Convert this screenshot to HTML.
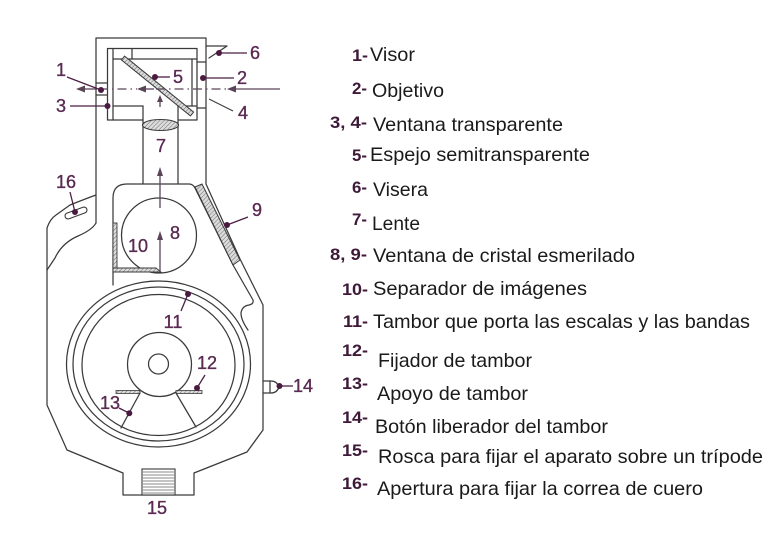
<!DOCTYPE html>
<html><head><meta charset="utf-8">
<style>
html,body{margin:0;padding:0;background:#fff;}
svg{display:block;}
.l{fill:none;stroke:#3a3a3a;stroke-width:1.25;stroke-linejoin:round;stroke-linecap:round;}
.lab{font-family:"Liberation Sans",sans-serif;font-size:18px;fill:#5a2a52;stroke:#5a2a52;stroke-width:0.35;text-anchor:middle;dominant-baseline:central;}
.ld{stroke:#4a1f44;stroke-width:1.3;fill:none;}
.dot{fill:#4a1a40;}
.ar{stroke:#5a4458;stroke-width:1.3;fill:none;}
.ah{fill:#5a4458;}
.t{font-family:"Liberation Sans",sans-serif;font-size:19.5px;fill:#1a1a1a;}
.p{font-family:"Liberation Sans",sans-serif;font-size:17px;font-weight:bold;fill:#3e1a38;}
</style></head><body>
<svg width="784" height="538" viewBox="0 0 784 538" xmlns="http://www.w3.org/2000/svg">
<defs>
<pattern id="h" width="3" height="3" patternUnits="userSpaceOnUse" patternTransform="rotate(45)">
<rect width="3" height="3" fill="#dcdcdc"/><line x1="0" y1="0" x2="0" y2="3" stroke="#6e6e6e" stroke-width="1"/>
</pattern>
</defs>

<!-- outer body -->
<path class="l" d="M96 223 L96 38 L206 38 L206 184 L240 259 L263 305 L263 430 L247 452 L194 473 L194 495 L123 495 L123 473 L67 450 L47 405 L47 228 Q50 219 56 215 L70 205 Q85 199 96 195"/>
<path class="l" d="M96 223 Q92 230 78 236 Q62 243 55 258 L47 270"/>

<!-- top box windows -->
<line class="l" x1="197" y1="62" x2="206" y2="62"/>
<line class="l" x1="197" y1="108" x2="206" y2="108"/>
<line class="l" x1="96" y1="83" x2="107" y2="83"/>
<line class="l" x1="96" y1="95" x2="107" y2="95"/>

<!-- inner box -->
<path class="l" d="M143 120 L107.5 120 L107.5 48.5 L197 48.5 L197 120 L178 120"/>
<line class="l" x1="113" y1="48.5" x2="113" y2="120"/>
<line class="l" x1="113" y1="59" x2="197" y2="59"/>
<line class="l" x1="132" y1="48.5" x2="132" y2="59"/>
<line class="l" x1="192" y1="59" x2="192" y2="106"/>
<line class="l" x1="113" y1="106" x2="143" y2="106"/>
<line class="l" x1="178" y1="106" x2="197" y2="106"/>

<!-- mirror -->
<polygon points="124.6,56.1 193.6,112.1 190.4,115.9 121.4,59.9" fill="url(#h)" stroke="#3a3a3a" stroke-width="1"/>

<!-- tube -->
<line class="l" x1="143" y1="106" x2="143" y2="184"/>
<line class="l" x1="178" y1="106" x2="178" y2="184"/>
<ellipse cx="160.5" cy="125" rx="18" ry="5.5" fill="url(#h)" stroke="#3a3a3a" stroke-width="1.1"/>

<!-- light path -->
<line class="ar" x1="234" y1="89" x2="280" y2="89"/>
<polygon class="ah" points="227,89 236,85.5 236,92.5"/>
<line class="ar" x1="144" y1="89" x2="154" y2="89"/>
<polygon class="ah" points="137,89 146,85.5 146,92.5"/>
<line class="ar" x1="83" y1="89" x2="97" y2="89"/>
<polygon class="ah" points="76,89 85,85.5 85,92.5"/>
<line class="ar" x1="99" y1="89" x2="137" y2="89" stroke-dasharray="9 4 1.5 4"/>
<line class="ar" x1="156" y1="89" x2="227" y2="89" stroke-dasharray="9 4 1.5 4"/>

<!-- small up arrow in box -->
<line class="ar" x1="160" y1="101" x2="160" y2="107"/>
<polygon class="ah" points="160,95 157,102 163,102"/>

<!-- block around window 8 -->
<path class="l" d="M113 285 L113 198 Q113 184 127 184 L189 184 Q193 184 195 188 L233 265 L253 300 Q254 304 249 305 Q242 306 241 313 Q241 320 248 330"/>
<!-- window 9 -->
<polygon points="195,187 202,184 240,260 233,265" fill="url(#h)" stroke="#3a3a3a" stroke-width="1"/>

<!-- window 8 -->
<circle class="l" cx="159" cy="235.5" r="37.5"/>
<!-- separator 10 -->
<rect x="113" y="223" width="4" height="48" fill="url(#h)" stroke="#3a3a3a" stroke-width="0.9"/>
<polygon points="113,268 156,268 161,272 113,272" fill="url(#h)" stroke="#3a3a3a" stroke-width="0.9"/>

<!-- up arrows -->
<line class="ar" x1="160" y1="175" x2="160" y2="208"/>
<polygon class="ah" points="160,167 157,176 163,176"/>
<line class="ar" x1="160" y1="239" x2="160" y2="272"/>
<polygon class="ah" points="160,231 157,240 163,240"/>

<!-- drum -->
<ellipse class="l" cx="158.5" cy="364" rx="92" ry="83"/>
<ellipse class="l" cx="158.5" cy="364" rx="85.5" ry="77"/>
<ellipse class="l" cx="158.5" cy="365" rx="76.5" ry="70.5"/>
<circle class="l" cx="159.5" cy="364.5" r="32"/>
<circle class="l" cx="158.5" cy="364" r="10"/>
<rect x="116" y="390.5" width="24" height="3" fill="url(#h)" stroke="#3a3a3a" stroke-width="0.8"/>
<rect x="176" y="390.5" width="26" height="3" fill="url(#h)" stroke="#3a3a3a" stroke-width="0.8"/>
<line class="l" x1="140" y1="393" x2="121" y2="428"/>
<line class="l" x1="176" y1="393" x2="196" y2="427"/>

<!-- button 14 -->
<path class="l" d="M263 381 L271 381 Q277 381 279 387 Q277 393 271 393 L263 393"/>
<line class="l" x1="270" y1="381" x2="270" y2="393"/>

<!-- thread 15 -->
<rect x="142" y="469" width="33" height="26" fill="#fff" stroke="#3a3a3a" stroke-width="1.1"/>
<g stroke="#8a8a8a" stroke-width="0.9">
<line x1="143" y1="472" x2="174" y2="472"/><line x1="143" y1="475" x2="174" y2="475"/>
<line x1="143" y1="478" x2="174" y2="478"/><line x1="143" y1="481" x2="174" y2="481"/>
<line x1="143" y1="484" x2="174" y2="484"/><line x1="143" y1="487" x2="174" y2="487"/>
<line x1="143" y1="490" x2="174" y2="490"/><line x1="143" y1="493" x2="174" y2="493"/>
</g>

<!-- slot 16 -->
<rect x="-11.5" y="-3" width="23" height="6" rx="3" transform="translate(76,213) rotate(-20)" fill="#fff" stroke="#3a3a3a" stroke-width="1.1"/>

<!-- visor 6 -->
<path class="l" d="M206 46 L227 46 L209 58"/>

<!-- leaders + dots -->
<line class="ld" x1="67" y1="77" x2="101" y2="90"/><circle class="dot" cx="101" cy="90" r="3"/>
<line class="ld" x1="70" y1="106" x2="107" y2="106"/><circle class="dot" cx="107.5" cy="106" r="3"/>
<line class="ld" x1="155" y1="77" x2="170" y2="77"/><circle class="dot" cx="155" cy="77" r="3"/>
<line class="ld" x1="203" y1="78" x2="234" y2="78"/><circle class="dot" cx="203" cy="78" r="3"/>
<line class="ld" x1="219" y1="53" x2="247" y2="53"/><circle class="dot" cx="219" cy="53" r="3"/>
<line x1="209" y1="99" x2="233" y2="111" stroke="#3a3a3a" stroke-width="1"/>
<line class="ld" x1="227" y1="225" x2="248" y2="217"/><circle class="dot" cx="227" cy="225" r="3"/>
<line class="ld" x1="188" y1="294" x2="181" y2="311"/><circle class="dot" cx="188" cy="294" r="3"/>
<line class="ld" x1="197" y1="388" x2="205" y2="375"/><circle class="dot" cx="197" cy="388" r="3"/>
<line class="ld" x1="119" y1="408" x2="129" y2="413"/><circle class="dot" cx="129.3" cy="413.3" r="3"/>
<line class="ld" x1="279" y1="386" x2="293" y2="386"/><circle class="dot" cx="279.5" cy="386" r="3"/>
<line class="ld" x1="70" y1="192" x2="75" y2="212"/><circle class="dot" cx="75" cy="212" r="3"/>

<!-- labels -->
<text class="lab" x="61" y="70">1</text>
<text class="lab" x="61" y="106">3</text>
<text class="lab" x="178" y="77">5</text>
<text class="lab" x="242" y="78">2</text>
<text class="lab" x="255" y="53">6</text>
<text class="lab" x="243" y="113">4</text>
<text class="lab" x="161" y="146">7</text>
<text class="lab" x="175" y="233">8</text>
<text class="lab" x="138" y="246">10</text>
<text class="lab" x="257" y="210">9</text>
<text class="lab" x="173" y="322">11</text>
<text class="lab" x="207" y="363">12</text>
<text class="lab" x="110" y="403">13</text>
<text class="lab" x="303" y="386">14</text>
<text class="lab" x="157" y="508">15</text>
<text class="lab" x="66" y="182">16</text>

<!-- legend -->
<text class="p" x="352" y="61" textLength="16" lengthAdjust="spacingAndGlyphs">1-</text>
<text class="t" x="370" y="61" textLength="45" lengthAdjust="spacingAndGlyphs">Visor</text>
<text class="p" x="352" y="94" textLength="15" lengthAdjust="spacingAndGlyphs">2-</text>
<text class="t" x="372" y="97" textLength="72" lengthAdjust="spacingAndGlyphs">Objetivo</text>
<text class="p" x="330" y="128" textLength="37" lengthAdjust="spacingAndGlyphs">3, 4-</text>
<text class="t" x="373" y="131" textLength="190" lengthAdjust="spacingAndGlyphs">Ventana transparente</text>
<text class="p" x="352" y="161" textLength="15" lengthAdjust="spacingAndGlyphs">5-</text>
<text class="t" x="370" y="161" textLength="220" lengthAdjust="spacingAndGlyphs">Espejo semitransparente</text>
<text class="p" x="352" y="193" textLength="15" lengthAdjust="spacingAndGlyphs">6-</text>
<text class="t" x="373" y="196" textLength="55" lengthAdjust="spacingAndGlyphs">Visera</text>
<text class="p" x="352" y="225" textLength="15" lengthAdjust="spacingAndGlyphs">7-</text>
<text class="t" x="372" y="230" textLength="48" lengthAdjust="spacingAndGlyphs">Lente</text>
<text class="p" x="330" y="260" textLength="37" lengthAdjust="spacingAndGlyphs">8, 9-</text>
<text class="t" x="373" y="262" textLength="262" lengthAdjust="spacingAndGlyphs">Ventana de cristal esmerilado</text>
<text class="p" x="342" y="295" textLength="26" lengthAdjust="spacingAndGlyphs">10-</text>
<text class="t" x="373" y="295" textLength="214" lengthAdjust="spacingAndGlyphs">Separador de imágenes</text>
<text class="p" x="343" y="327" textLength="25" lengthAdjust="spacingAndGlyphs">11-</text>
<text class="t" x="373" y="328" textLength="377" lengthAdjust="spacingAndGlyphs">Tambor que porta las escalas y las bandas</text>
<text class="p" x="342" y="356" textLength="26" lengthAdjust="spacingAndGlyphs">12-</text>
<text class="t" x="378" y="367" textLength="154" lengthAdjust="spacingAndGlyphs">Fijador de tambor</text>
<text class="p" x="342" y="389" textLength="26" lengthAdjust="spacingAndGlyphs">13-</text>
<text class="t" x="377" y="400" textLength="151" lengthAdjust="spacingAndGlyphs">Apoyo de tambor</text>
<text class="p" x="342" y="423" textLength="26" lengthAdjust="spacingAndGlyphs">14-</text>
<text class="t" x="375" y="433" textLength="233" lengthAdjust="spacingAndGlyphs">Botón liberador del tambor</text>
<text class="p" x="342" y="456" textLength="26" lengthAdjust="spacingAndGlyphs">15-</text>
<text class="t" x="378" y="463" textLength="385" lengthAdjust="spacingAndGlyphs">Rosca para fijar el aparato sobre un trípode</text>
<text class="p" x="342" y="489" textLength="26" lengthAdjust="spacingAndGlyphs">16-</text>
<text class="t" x="377" y="495" textLength="326" lengthAdjust="spacingAndGlyphs">Apertura para fijar la correa de cuero</text>
</svg>
</body></html>
